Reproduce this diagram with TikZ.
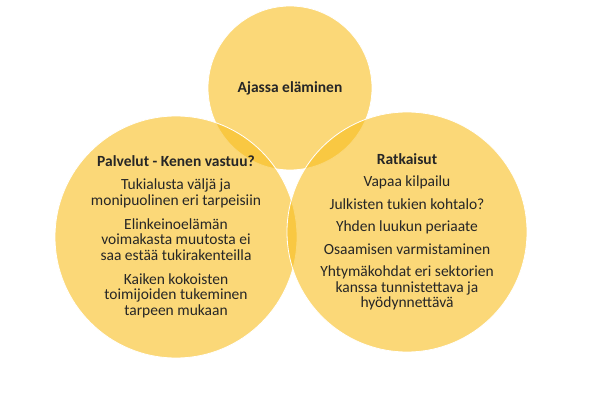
\documentclass[tikz,border=0pt]{standalone}
\usepackage{fontspec}
\setmainfont{Carlito}
\definecolor{gold}{RGB}{248,190,30}
\begin{document}
\begin{tikzpicture}[x=1pt, y=-1pt,
    petal/.style={circle, fill=gold, fill opacity=0.6, text opacity=1,
        draw=white, line width=0.8pt, inner sep=0pt, align=center,
        text=black!85, font=\fontsize{15.5}{15.5}\selectfont}]
    \useasboundingbox (0,0) rectangle (590,409);

    % Top circle
    \node[petal, minimum size=164pt] (aika) at (290,88) {\textbf{Ajassa eläminen}};

    % Left circle
    \node[petal, minimum size=242pt] (palvelut) at (176,237) {%
        \textbf{Palvelut - Kenen vastuu?}\\[7.5pt]
        Tukialusta väljä ja\\ monipuolinen eri tarpeisiin\\[8.5pt]
        Elinkeinoelämän\\ voimakasta muutosta ei\\ saa estää tukirakenteilla\\[8.5pt]
        Kaiken kokoisten\\ toimijoiden tukeminen\\ tarpeen mukaan};

    % Right circle
    \node[petal, minimum size=240pt] (ratkaisut) at (407,232) {%
        \textbf{Ratkaisut}\\[7pt]
        Vapaa kilpailu\\[7pt]
        Julkisten tukien kohtalo?\\[7pt]
        Yhden luukun periaate\\[7pt]
        Osaamisen varmistaminen\\[7pt]
        Yhtymäkohdat eri sektorien\\ kanssa tunnistettava ja\\ hyödynnettävä};
\end{tikzpicture}
\end{document}
